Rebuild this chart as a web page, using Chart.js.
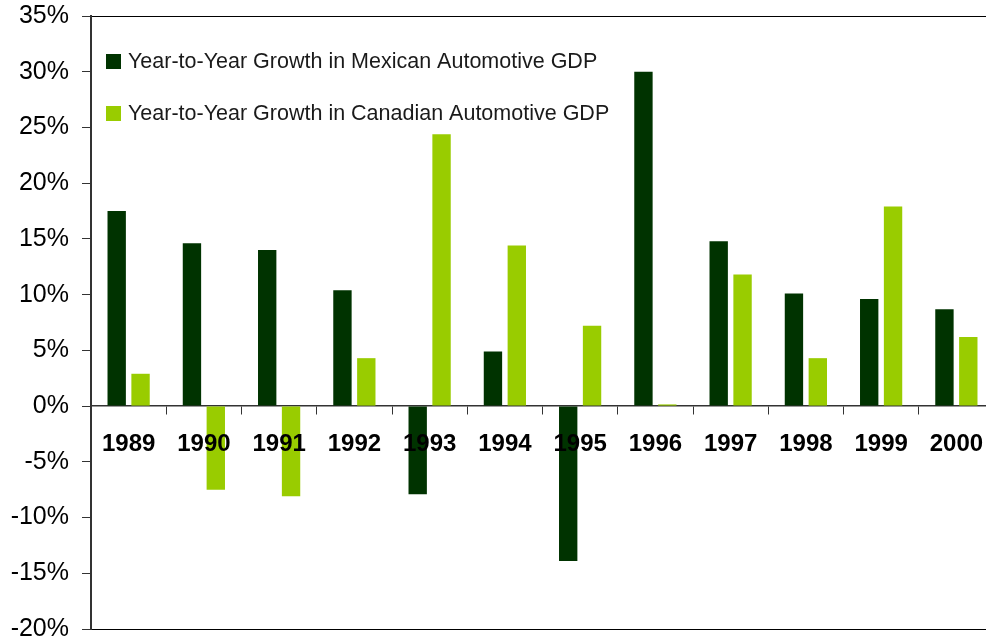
<!DOCTYPE html>
<html>
<head>
<meta charset="utf-8">
<script src="https://cdn.jsdelivr.net/npm/chart.js@4"></script>
<style>
  html, body { margin: 0; padding: 0; background: #fff; overflow: hidden; }
  #wrap { width: 995px; height: 660px; }
</style>
</head>
<body>
<div id="wrap"><canvas id="autoGdpChart"></canvas></div>
<script>
var years = ['1989', '1990', '1991', '1992', '1993', '1994', '1995', '1996', '1997', '1998', '1999', '2000'];
var mexicanGrowth = [17.5, 14.6, 14.0, 10.4, -7.9, 4.9, -13.9, 30.0, 14.8, 10.1, 9.6, 8.7];
var canadianGrowth = [2.9, -7.5, -8.1, 4.3, 24.4, 14.4, 7.2, 0.15, 11.8, 4.3, 17.9, 6.2];
var seriesNames = ['Year-to-Year Growth in Mexican Automotive GDP', 'Year-to-Year Growth in Canadian Automotive GDP'];
var yTicks = [-20, -15, -10, -5, 0, 5, 10, 15, 20, 25, 30, 35];

// legend boxes drawn inside the plot, top left
var insideLegend = {
    id: 'insideLegend',
    afterDraw: function (chart) {
        var c = chart.ctx;
        c.save();
        c.font = '21.5px "Liberation Sans", Arial, sans-serif';
        c.textBaseline = 'middle';
        chart.data.datasets.forEach(function (ds, i) {
            var y = 54 + i * 52;
            c.fillStyle = ds.backgroundColor;
            c.fillRect(106, y, 15, 15);
            c.fillStyle = '#1a1a1a';
            c.fillText(ds.label, 128, y + 8);
        });
        c.restore();
    }
};

var ctx = document.getElementById('autoGdpChart').getContext('2d');
var autoGdpChart = new Chart(ctx, {
    type: 'bar',
    data: {
        labels: years,
        datasets: [{
            label: seriesNames[0],
            data: mexicanGrowth,
            backgroundColor: '#003300',
            categoryPercentage: 0.634,
            barPercentage: 0.77
        }, {
            label: seriesNames[1],
            data: canadianGrowth,
            backgroundColor: '#99cc00',
            categoryPercentage: 0.634,
            barPercentage: 0.77
        }]
    },
    options: {
        responsive: true,
        maintainAspectRatio: false,
        animation: false,
        layout: {
            padding: { top: 16, bottom: 31, left: 0, right: 1 }
        },
        plugins: {
            legend: { display: false },
            tooltip: { enabled: false }
        },
        scales: {
            x: {
                position: { y: 0 },
                afterFit: function (scale) {
                    scale.paddingLeft = 0;
                    scale.paddingRight = 0;
                },
                grid: {
                    offset: true,
                    drawOnChartArea: false,
                    drawTicks: true,
                    tickLength: 8,
                    tickColor: '#333'
                },
                border: { display: true, color: '#333', width: 1.5 },
                ticks: {
                    z: 1,
                    color: '#000',
                    padding: 16,
                    maxRotation: 0,
                    font: { family: '"Liberation Sans", Arial, sans-serif', size: 24, weight: 'bold' }
                }
            },
            y: {
                min: yTicks[0],
                max: yTicks[yTicks.length - 1],
                afterBuildTicks: function (scale) {
                    scale.ticks = yTicks.map(function (v) { return { value: v }; });
                },
                afterFit: function (scale) {
                    scale.width = 91;
                    scale.paddingTop = 0;
                    scale.paddingBottom = 0;
                },
                grid: {
                    color: function (c) {
                        var v = c.tick && c.tick.value;
                        return (v === 35 || v === -20) ? '#000' : 'rgba(0,0,0,0)';
                    },
                    tickColor: '#333',
                    tickLength: 9,
                    lineWidth: 1
                },
                border: { display: true, color: '#333', width: 2 },
                ticks: {
                    color: '#000',
                    padding: 13,
                    font: { family: '"Liberation Sans", Arial, sans-serif', size: 25 },
                    callback: function (v) { return v + '%'; }
                }
            }
        }
    },
    plugins: [insideLegend]
});
</script>
</body>
</html>
